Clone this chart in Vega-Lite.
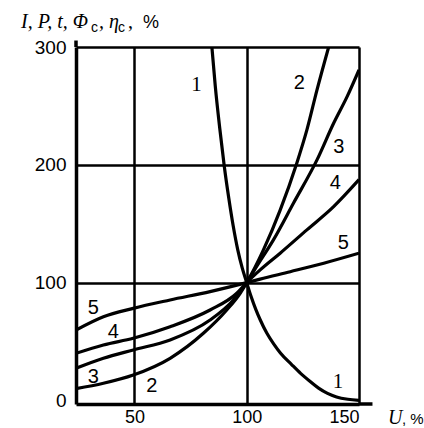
{
  "$schema": "https://vega.github.io/schema/vega-lite/v6.json",
  "width": 283,
  "height": 357,
  "autosize": "none",
  "padding": {"left": 76, "top": 47, "right": 65, "bottom": 24},
  "background": "white",
  "config": {
    "view": {"stroke": null},
    "axis": {
      "labelFont": "Liberation Sans",
      "labelFontSize": 19,
      "labelColor": "#000",
      "ticks": false,
      "title": null,
      "domainColor": "#000",
      "domainWidth": 3.5,
      "gridColor": "#000",
      "gridWidth": 2.5
    }
  },
  "datasets": {
    "curves": [
      {"curve": "1", "U": 84.5, "V": 300}, {"curve": "1", "U": 86, "V": 267}, {"curve": "1", "U": 88, "V": 231},
      {"curve": "1", "U": 90, "V": 199}, {"curve": "1", "U": 92, "V": 172}, {"curve": "1", "U": 94, "V": 148},
      {"curve": "1", "U": 96, "V": 128}, {"curve": "1", "U": 98, "V": 112.5}, {"curve": "1", "U": 100, "V": 100},
      {"curve": "1", "U": 102, "V": 88}, {"curve": "1", "U": 104, "V": 77.5}, {"curve": "1", "U": 106, "V": 68.5},
      {"curve": "1", "U": 109, "V": 57}, {"curve": "1", "U": 112, "V": 48}, {"curve": "1", "U": 115, "V": 40.3},
      {"curve": "1", "U": 120, "V": 30.5}, {"curve": "1", "U": 124, "V": 23}, {"curve": "1", "U": 128, "V": 16.5},
      {"curve": "1", "U": 132, "V": 10.5}, {"curve": "1", "U": 136, "V": 6}, {"curve": "1", "U": 140, "V": 3},
      {"curve": "1", "U": 145, "V": 1}, {"curve": "1", "U": 150, "V": 0},

      {"curve": "2", "U": 24, "V": 10}, {"curve": "2", "U": 36.2, "V": 14.6}, {"curve": "2", "U": 49.5, "V": 21.6},
      {"curve": "2", "U": 65.9, "V": 35.8}, {"curve": "2", "U": 80.7, "V": 57}, {"curve": "2", "U": 91.1, "V": 76.8},
      {"curve": "2", "U": 97.1, "V": 91}, {"curve": "2", "U": 100, "V": 100}, {"curve": "2", "U": 107.5, "V": 128},
      {"curve": "2", "U": 114.9, "V": 161.6}, {"curve": "2", "U": 122.3, "V": 201.4}, {"curve": "2", "U": 126.8, "V": 229.6},
      {"curve": "2", "U": 131.3, "V": 263.6}, {"curve": "2", "U": 136.5, "V": 300},

      {"curve": "3", "U": 24, "V": 27.3}, {"curve": "3", "U": 36.2, "V": 35.8}, {"curve": "3", "U": 49.5, "V": 42.9},
      {"curve": "3", "U": 65.9, "V": 51.4}, {"curve": "3", "U": 83.7, "V": 68.3}, {"curve": "3", "U": 94.1, "V": 85.3},
      {"curve": "3", "U": 100, "V": 100}, {"curve": "3", "U": 104.5, "V": 114}, {"curve": "3", "U": 111.9, "V": 136.3},
      {"curve": "3", "U": 120.8, "V": 167.4}, {"curve": "3", "U": 131.3, "V": 204.2}, {"curve": "3", "U": 138.7, "V": 235.3},
      {"curve": "3", "U": 144.7, "V": 257.9}, {"curve": "3", "U": 150, "V": 280.6},

      {"curve": "4", "U": 24, "V": 40}, {"curve": "4", "U": 36.2, "V": 47.1}, {"curve": "4", "U": 49.5, "V": 52.8},
      {"curve": "4", "U": 65.9, "V": 62.6}, {"curve": "4", "U": 83.7, "V": 76.8}, {"curve": "4", "U": 95.6, "V": 91},
      {"curve": "4", "U": 100, "V": 100}, {"curve": "4", "U": 106, "V": 110.8}, {"curve": "4", "U": 114.9, "V": 125},
      {"curve": "4", "U": 126.8, "V": 144.8}, {"curve": "4", "U": 138.7, "V": 164.5}, {"curve": "4", "U": 150, "V": 187.4},

      {"curve": "5", "U": 24, "V": 59.8}, {"curve": "5", "U": 36.2, "V": 71.1}, {"curve": "5", "U": 49.5, "V": 78.2},
      {"curve": "5", "U": 65.9, "V": 85.3}, {"curve": "5", "U": 83.7, "V": 92.4}, {"curve": "5", "U": 100, "V": 100},
      {"curve": "5", "U": 106, "V": 103}, {"curve": "5", "U": 119.4, "V": 109.3}, {"curve": "5", "U": 134.3, "V": 116.5},
      {"curve": "5", "U": 150, "V": 125}
    ],
    "labels": [
      {"label": "1", "U": 77.7, "V": 267.8}, {"label": "1", "U": 140.6, "V": 15.4},
      {"label": "2", "U": 123.4, "V": 269.8}, {"label": "2", "U": 57.7, "V": 12.3},
      {"label": "3", "U": 141, "V": 215.4}, {"label": "3", "U": 31.7, "V": 20.2},
      {"label": "4", "U": 139.4, "V": 184.4}, {"label": "4", "U": 40.6, "V": 58.4},
      {"label": "5", "U": 143, "V": 133.4}, {"label": "5", "U": 31.7, "V": 78.3}
    ],
    "one": [{}]
  },
  "layer": [
    {
      "data": {"name": "curves"},
      "mark": {"type": "line", "interpolate": "monotone", "color": "#000", "strokeWidth": 3.2, "clip": true},
      "encoding": {
        "x": {
          "field": "U", "type": "quantitative",
          "scale": {"domain": [24, 150], "nice": false, "zero": false},
          "axis": {"values": [50, 100, 150], "labelPadding": 4, "labelFontSize": 18, "labelBaseline": "top"}
        },
        "y": {
          "field": "V", "type": "quantitative",
          "scale": {"domain": [-3, 300], "nice": false, "zero": false},
          "axis": {
            "values": [0, 100, 200, 300],
            "labelPadding": 10,
            "gridOpacity": {"condition": {"test": "datum.value === 0", "value": 0}, "value": 1}
          }
        },
        "detail": {"field": "curve"}
      }
    },
    {
      "data": {"name": "labels"},
      "transform": [{"filter": "datum.label !== '1'"}],
      "mark": {"type": "text", "font": "Liberation Sans", "fontSize": 20, "color": "#000", "align": "center", "baseline": "middle"},
      "encoding": {
        "x": {"field": "U", "type": "quantitative"},
        "y": {"field": "V", "type": "quantitative"},
        "text": {"field": "label"}
      }
    },
    {
      "data": {"name": "labels"},
      "transform": [{"filter": "datum.label === '1'"}],
      "mark": {"type": "text", "font": "Liberation Serif", "fontSize": 21, "color": "#000", "align": "center", "baseline": "middle"},
      "encoding": {
        "x": {"field": "U", "type": "quantitative"},
        "y": {"field": "V", "type": "quantitative"},
        "text": {"field": "label"}
      }
    },
    {
      "data": {"name": "one"},
      "mark": {"type": "rule", "color": "#000", "strokeWidth": 3.5},
      "encoding": {"x": {"datum": 24}, "y": {"datum": 300}, "y2": {"datum": 305.5}}
    },
    {
      "data": {"name": "one"},
      "mark": {"type": "rule", "color": "#000", "strokeWidth": 3.5},
      "encoding": {"x": {"datum": 150}, "x2": {"datum": 156}, "y": {"datum": -3}}
    },
    {
      "data": {"name": "one"},
      "mark": {"type": "text", "text": "I, P, t, Φ", "font": "Liberation Serif", "fontStyle": "italic", "fontSize": 20, "color": "#000", "align": "left", "baseline": "alphabetic", "dx": -55, "dy": -19},
      "encoding": {"x": {"datum": 24}, "y": {"datum": 300}}
    },
    {
      "data": {"name": "one"},
      "mark": {"type": "text", "text": "c", "font": "Liberation Sans", "fontSize": 14, "color": "#000", "align": "left", "baseline": "alphabetic", "dx": 15, "dy": -15},
      "encoding": {"x": {"datum": 24}, "y": {"datum": 300}}
    },
    {
      "data": {"name": "one"},
      "mark": {"type": "text", "text": ", η", "font": "Liberation Serif", "fontStyle": "italic", "fontSize": 20, "color": "#000", "align": "left", "baseline": "alphabetic", "dx": 23, "dy": -19},
      "encoding": {"x": {"datum": 24}, "y": {"datum": 300}}
    },
    {
      "data": {"name": "one"},
      "mark": {"type": "text", "text": "c", "font": "Liberation Sans", "fontSize": 14, "color": "#000", "align": "left", "baseline": "alphabetic", "dx": 42, "dy": -15},
      "encoding": {"x": {"datum": 24}, "y": {"datum": 300}}
    },
    {
      "data": {"name": "one"},
      "mark": {"type": "text", "text": ",", "font": "Liberation Serif", "fontSize": 20, "color": "#000", "align": "left", "baseline": "alphabetic", "dx": 52, "dy": -19},
      "encoding": {"x": {"datum": 24}, "y": {"datum": 300}}
    },
    {
      "data": {"name": "one"},
      "mark": {"type": "text", "text": "%", "font": "Liberation Sans", "fontSize": 18, "color": "#000", "align": "left", "baseline": "alphabetic", "dx": 67, "dy": -19},
      "encoding": {"x": {"datum": 24}, "y": {"datum": 300}}
    },
    {
      "data": {"name": "one"},
      "mark": {"type": "text", "text": "U", "font": "Liberation Serif", "fontStyle": "italic", "fontSize": 20, "color": "#000", "align": "left", "baseline": "alphabetic", "dx": 29, "dy": 20},
      "encoding": {"x": {"datum": 150}, "y": {"datum": -3}}
    },
    {
      "data": {"name": "one"},
      "mark": {"type": "text", "text": ", %", "font": "Liberation Sans", "fontSize": 15, "color": "#000", "align": "left", "baseline": "alphabetic", "dx": 43, "dy": 20},
      "encoding": {"x": {"datum": 150}, "y": {"datum": -3}}
    }
  ]
}
